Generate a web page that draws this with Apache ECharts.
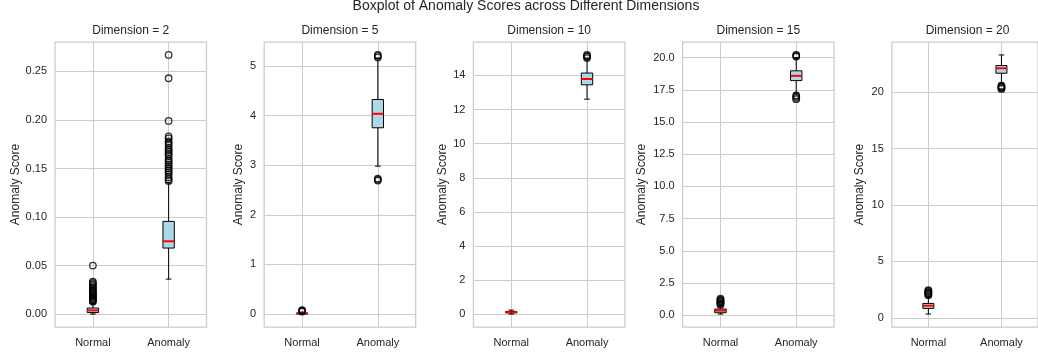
<!DOCTYPE html>
<html><head><meta charset="utf-8">
<script src="https://cdn.jsdelivr.net/npm/echarts@6/dist/echarts.min.js"></script>
<style>html,body{margin:0;padding:0;background:#fff}#c{width:1038px;height:356px}</style>
</head><body><div id="c"></div>
<script>
// ---------------- DATA ----------------
const mainTitle = 'Boxplot of Anomaly Scores across Different Dimensions';
const dimensions = [2, 5, 10, 15, 20];
const categories = ['Normal', 'Anomaly'];
const yAxisName = 'Anomaly Score';

// [whiskerLow, Q1, median, Q3, whiskerHigh] for Normal, Anomaly
const boxDim2  = [[0.0, 0.0015, 0.0038, 0.0062, 0.011], [0.036, 0.068, 0.075, 0.0955, 0.135]];
const boxDim5  = [[0.0, 0.005, 0.01, 0.02, 0.04], [2.98, 3.753, 4.035, 4.323, 5.15]];
const boxDim10 = [[0.02, 0.09, 0.13, 0.17, 0.25], [12.61, 13.45, 13.79, 14.14, 14.95]];
const boxDim15 = [[0.1, 0.2, 0.37, 0.49, 0.75], [17.25, 18.21, 18.58, 18.97, 20.0]];
const boxDim20 = [[0.33, 0.83, 1.07, 1.27, 1.86], [20.8, 21.69, 22.13, 22.37, 23.31]];

// outliers: [Normal], [Anomaly]
const outDim2 = [
  [0.0127, 0.0135, 0.0145, 0.0155, 0.0165, 0.0175, 0.0185, 0.0195, 0.0205, 0.0215, 0.0225, 0.0235, 0.0245, 0.026, 0.0275, 0.029, 0.0305, 0.032, 0.0335, 0.050],
  [0.137, 0.139, 0.141, 0.144, 0.146, 0.148, 0.150, 0.152, 0.154, 0.156, 0.158, 0.160, 0.163, 0.165, 0.167, 0.169, 0.171, 0.174, 0.176, 0.178, 0.181, 0.183, 0.199, 0.243, 0.267]
];
const outDim5  = [[0.05, 0.06, 0.07, 0.08], [2.69, 2.71, 2.73, 5.17, 5.2, 5.22]];
const outDim10 = [[], [15.02, 15.1, 15.15, 15.2]];
const outDim15 = [[0.82, 0.88, 0.95, 1.02, 1.08, 1.15, 1.22, 1.3], [16.77, 16.87, 16.97, 17.07, 20.08, 20.14, 20.2]];
const outDim20 = [[2.0, 2.07, 2.15, 2.22, 2.3, 2.38, 2.46], [20.3, 20.36, 20.45, 20.52, 20.58]];

// y tick values and label decimals
const ticksDim2  = [0, 0.05, 0.10, 0.15, 0.20, 0.25];
const ticksDim5  = [0, 1, 2, 3, 4, 5];
const ticksDim10 = [0, 2, 4, 6, 8, 10, 12, 14];
const ticksDim15 = [0, 2.5, 5, 7.5, 10, 12.5, 15, 17.5, 20];
const ticksDim20 = [0, 5, 10, 15, 20];
const tickDecimals = [2, 0, 0, 1, 0];

// ---------------- LAYOUT ----------------
const boxes = [boxDim2, boxDim5, boxDim10, boxDim15, boxDim20];
const outs = [outDim2, outDim5, outDim10, outDim15, outDim20];
const ticks = [ticksDim2, ticksDim5, ticksDim10, ticksDim15, ticksDim20];
const gridLefts = [55, 264.2, 473.4, 682.6, 891.8];
const gridWidth = 151.5;
const gridTop = 42, gridHeight = 285;
const nameGaps = [33, 19.5, 25, 35, 26];
const textColor = '#262626';
const lineGray = '#cccccc';

function renderBox(params, api) {
  const c = api.value(0);
  const lo = api.coord([c, api.value(1)]);
  const q1 = api.coord([c, api.value(2)]);
  const md = api.coord([c, api.value(3)]);
  const q3 = api.coord([c, api.value(4)]);
  const hi = api.coord([c, api.value(5)]);
  const band = api.size([1, 0])[0];
  const bw = band * 0.15, cw = band * 0.075;
  const x = lo[0];
  const black = {stroke: '#000', lineWidth: 1, fill: null};
  return {type: 'group', children: [
    {type: 'line', shape: {x1: x, y1: lo[1], x2: x, y2: q1[1]}, style: black},
    {type: 'line', shape: {x1: x, y1: q3[1], x2: x, y2: hi[1]}, style: black},
    {type: 'line', shape: {x1: x - cw / 2, y1: lo[1], x2: x + cw / 2, y2: lo[1]}, style: black},
    {type: 'line', shape: {x1: x - cw / 2, y1: hi[1], x2: x + cw / 2, y2: hi[1]}, style: black},
    {type: 'rect', shape: {x: x - bw / 2, y: q3[1], width: bw, height: q1[1] - q3[1]}, style: {fill: '#add8e6', stroke: '#000', lineWidth: 1}},
    {type: 'line', shape: {x1: x - bw / 2, y1: md[1], x2: x + bw / 2, y2: md[1]}, style: {stroke: '#ff0000', lineWidth: 2}}
  ]};
}

const option = {
  animation: false,
  backgroundColor: '#ffffff',
  title: [{text: mainTitle, left: 526, top: -1, textAlign: 'center', padding: 0,
           textStyle: {fontFamily: 'Liberation Sans', fontSize: 14, fontWeight: 'normal', color: textColor}}],
  grid: [], xAxis: [], yAxis: [], series: []
};

dimensions.forEach((d, i) => {
  let all = [];
  boxes[i].forEach(b => all = all.concat(b));
  outs[i].forEach(o => all = all.concat(o));
  const dmin = Math.min(...all), dmax = Math.max(...all);
  const pad = (dmax - dmin) * 0.05;
  option.title.push({text: 'Dimension = ' + d, left: gridLefts[i] + gridWidth / 2, top: 25, textAlign: 'center', padding: 0,
    textStyle: {fontFamily: 'Liberation Sans', fontSize: 12, fontWeight: 'normal', color: textColor}});
  option.grid.push({left: gridLefts[i], top: gridTop, width: gridWidth, height: gridHeight,
    show: true, borderColor: lineGray, borderWidth: 1.25, backgroundColor: 'transparent'});
  option.xAxis.push({type: 'category', gridIndex: i, data: categories, boundaryGap: true,
    axisLine: {show: false}, axisTick: {show: false}, splitLine: {show: false},
    axisLabel: {color: textColor, fontFamily: 'Liberation Sans', fontSize: 11, margin: 10}});
  const dec = tickDecimals[i];
  option.yAxis.push({type: 'value', gridIndex: i, min: dmin - pad, max: dmax + pad,
    name: yAxisName, nameLocation: 'middle', nameGap: nameGaps[i],
    nameTextStyle: {color: textColor, fontFamily: 'Liberation Sans', fontSize: 12},
    axisLine: {show: false},
    axisTick: {show: false, customValues: ticks[i]},
    splitLine: {show: true, lineStyle: {color: lineGray, width: 1}},
    axisLabel: {customValues: ticks[i], color: textColor, fontFamily: 'Liberation Sans', fontSize: 11, margin: 8,
      formatter: v => Number(v).toFixed(dec)}});
  option.series.push({type: 'custom', xAxisIndex: i, yAxisIndex: i, z: 3, renderItem: renderBox,
    encode: {x: 0, y: [1, 2, 3, 4, 5]},
    data: boxes[i].map((b, k) => [k].concat(b)),
    markLine: {silent: true, symbol: 'none', z: 1, animation: false, label: {show: false},
      lineStyle: {color: lineGray, width: 1, type: 'solid'},
      emphasis: {disabled: true},
      data: categories.map(c => ({xAxis: c}))}
  });
  const pts = [];
  outs[i].forEach((arr, k) => arr.forEach(v => pts.push([k, v])));
  option.series.push({type: 'scatter', xAxisIndex: i, yAxisIndex: i, z: 4, symbol: 'circle', symbolSize: 6.5,
    itemStyle: {color: 'rgba(0,0,0,0)', borderColor: '#000', borderWidth: 1.3},
    emphasis: {disabled: true}, data: pts});
});

const chart = echarts.init(document.getElementById('c'), null, {renderer: 'canvas'});
chart.setOption(option);
</script></body></html>
